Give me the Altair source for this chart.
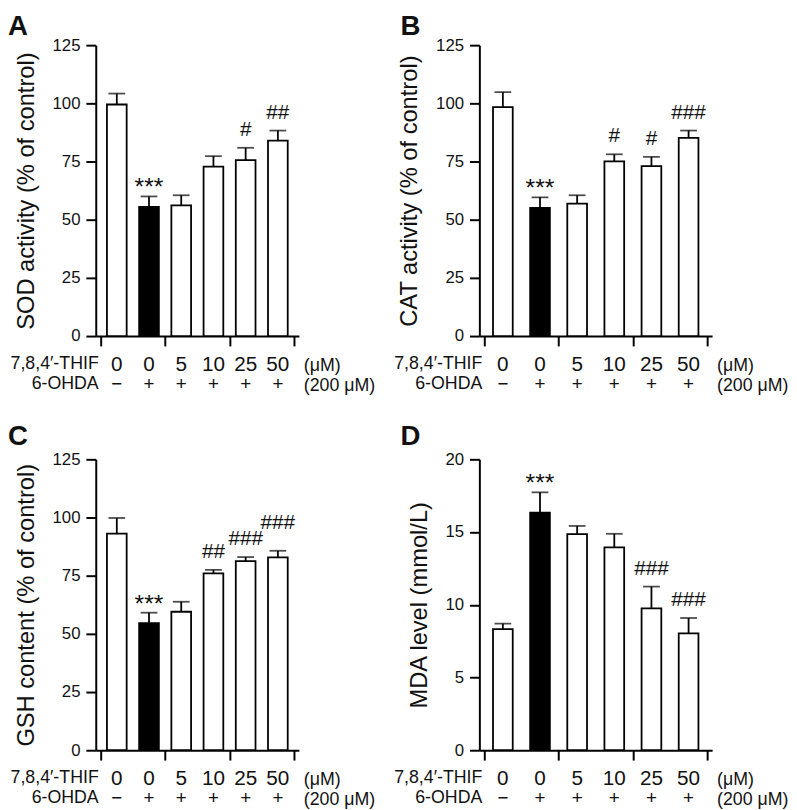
import altair as alt
import pandas as pd

# ---- data ----
groups = [0, 1, 2, 3, 4, 5]
thif_conc = ["0", "0", "5", "10", "25", "50"]
ohda_sign = ["\u2212", "+", "+", "+", "+", "+"]

sod_mean = [99.5, 55.5, 56.2, 72.8, 75.6, 84.0]
sod_err = [4.7, 4.5, 4.3, 4.5, 5.3, 4.3]
sod_star = ["", "***", "", "", "", ""]
sod_hash = ["", "", "", "", "#", "##"]

cat_mean = [98.4, 55.1, 56.9, 75.1, 73.0, 85.2]
cat_err = [6.4, 4.5, 3.6, 3.0, 4.0, 3.1]
cat_star = ["", "***", "", "", "", ""]
cat_hash = ["", "", "", "#", "#", "###"]

gsh_mean = [93.1, 54.6, 59.5, 76.0, 81.3, 82.9]
gsh_err = [6.7, 4.5, 4.3, 1.5, 1.7, 2.8]
gsh_star = ["", "***", "", "", "", ""]
gsh_hash = ["", "", "", "##", "###", "###"]

mda_mean = [8.32, 16.33, 14.85, 13.95, 9.75, 8.03]
mda_err = [0.38, 1.40, 0.57, 0.93, 1.50, 1.06]
mda_star = ["", "***", "", "", "", ""]
mda_hash = ["", "", "", "", "###", "###"]

pct_ticks = [0, 25, 50, 75, 100, 125]
mda_ticks = [0, 5, 10, 15, 20]

row1_label = "7,8,4\u2032-THIF"
row2_label = "6-OHDA"
row1_unit = "(\u03bcM)"
row2_unit = "(200 \u03bcM)"

FONT = "Liberation Sans"
H = 295


def panel(letter, means, errs, stars, hashes, ytitle, yticks, W, raise_last=False):
    df = pd.DataFrame({
        "idx": groups,
        "mean": means,
        "err": errs,
        "thif": thif_conc,
        "ohda": ohda_sign,
        "star": stars,
        "hash": hashes,
    })
    ymax = yticks[-1]
    base = alt.Chart(df).transform_calculate(
        pos="datum.idx + 0.5", hi="datum.mean + datum.err"
    )
    X = alt.X("pos:Q", scale=alt.Scale(domain=[0, 6], nice=False, zero=False),
              axis=alt.Axis(values=list(range(7)), labels=False, title=None, grid=False,
                            tickSize=10, tickWidth=2, domainWidth=2,
                            domainColor="black", tickColor="black"))
    Y = alt.Y("mean:Q", scale=alt.Scale(domain=[0, ymax], nice=False),
              axis=alt.Axis(values=yticks, title=ytitle, grid=False, tickSize=10,
                            tickWidth=2, domainWidth=2, labelPadding=6,
                            labelFontSize=17, titleFontSize=24,
                            titleFontWeight="normal", titlePadding=14,
                            domainColor="black", tickColor="black",
                            labelColor="#111", titleColor="#111"))
    bars = base.mark_bar(size=20, stroke="black", strokeWidth=1.8, orient="vertical").encode(
        x=X, y=Y,
        fill=alt.condition("datum.idx == 1", alt.value("black"), alt.value("white")),
    )
    rule = base.mark_rule(color="black", strokeWidth=1.8).encode(
        x="pos:Q", y="mean:Q", y2="hi:Q")
    cap = base.mark_tick(orient="horizontal", size=17, thickness=1.8, color="black").encode(
        x="pos:Q", y="hi:Q")
    star_t = base.mark_text(fontSize=25, baseline="alphabetic", dy=-1).encode(
        x="pos:Q", y="hi:Q", text="star:N")
    if raise_last:
        hash_t = base.transform_filter("datum.idx != 5").mark_text(
            fontSize=21, baseline="alphabetic", dy=-12).encode(
            x="pos:Q", y="hi:Q", text="hash:N")
        hash_t2 = base.transform_filter("datum.idx == 5").mark_text(
            fontSize=21, baseline="alphabetic", dy=-22).encode(
            x="pos:Q", y="hi:Q", text="hash:N")
        hash_layers = [hash_t, hash_t2]
    else:
        hash_layers = [base.mark_text(fontSize=21, baseline="alphabetic", dy=-12).encode(
            x="pos:Q", y="hi:Q", text="hash:N")]
    row1 = base.mark_text(fontSize=21, baseline="alphabetic").encode(
        x="pos:Q", y=alt.value(H + 35), text="thif:N")
    row2 = base.mark_text(fontSize=19, baseline="alphabetic").encode(
        x="pos:Q", y=alt.value(H + 55), text="ohda:N")

    def lab(t, x, y, align, size=18, weight="normal", baseline="alphabetic"):
        return alt.Chart(pd.DataFrame({"t": [t]})).mark_text(
            align=align, baseline=baseline, fontSize=size, fontWeight=weight
        ).encode(x=alt.value(x), y=alt.value(y), text="t:N")

    l1 = lab(row1_label, 3, H + 33, "right")
    l2 = lab(row2_label, 3, H + 54, "right")
    u1 = lab(row1_unit, W + 5, H + 35, "left")
    u2 = lab(row2_unit, W + 5, H + 56, "left")
    return alt.layer(bars, rule, cap, star_t, *hash_layers, row1, row2, l1, l2, u1, u2,
                     letter).properties(width=W, height=H)


def letter_mark(t, x, y):
    return alt.Chart(pd.DataFrame({"t": [t]})).mark_text(
        align="left", baseline="top", fontSize=28, fontWeight="bold"
    ).encode(x=alt.value(x), y=alt.value(y), text="t:N")


pA = panel(letter_mark("A", -89, -32), sod_mean, sod_err, sod_star, sod_hash,
           "SOD activity (% of control)", pct_ticks, 206)
pB = panel(letter_mark("B", -80, -32), cat_mean, cat_err, cat_star, cat_hash,
           "CAT activity (% of control)", pct_ticks, 236)
pC = panel(letter_mark("C", -89, -37), gsh_mean, gsh_err, gsh_star, gsh_hash,
           "GSH content (% of control)", pct_ticks, 206, raise_last=True)
pD = panel(letter_mark("D", -80, -37), mda_mean, mda_err, mda_star, mda_hash,
           "MDA level (mmol/L)", mda_ticks, 236)

chart = alt.concat(pA, pB, pC, pD, columns=2,
                   spacing={"row": 125, "column": 183}, bounds="flush").properties(
    padding=0
).configure_view(stroke=None).configure_text(font=FONT, color="#111").configure_axis(
    labelFont=FONT, titleFont=FONT
)

chart.save("out.html", embed_options={"renderer": "svg", "actions": False})
